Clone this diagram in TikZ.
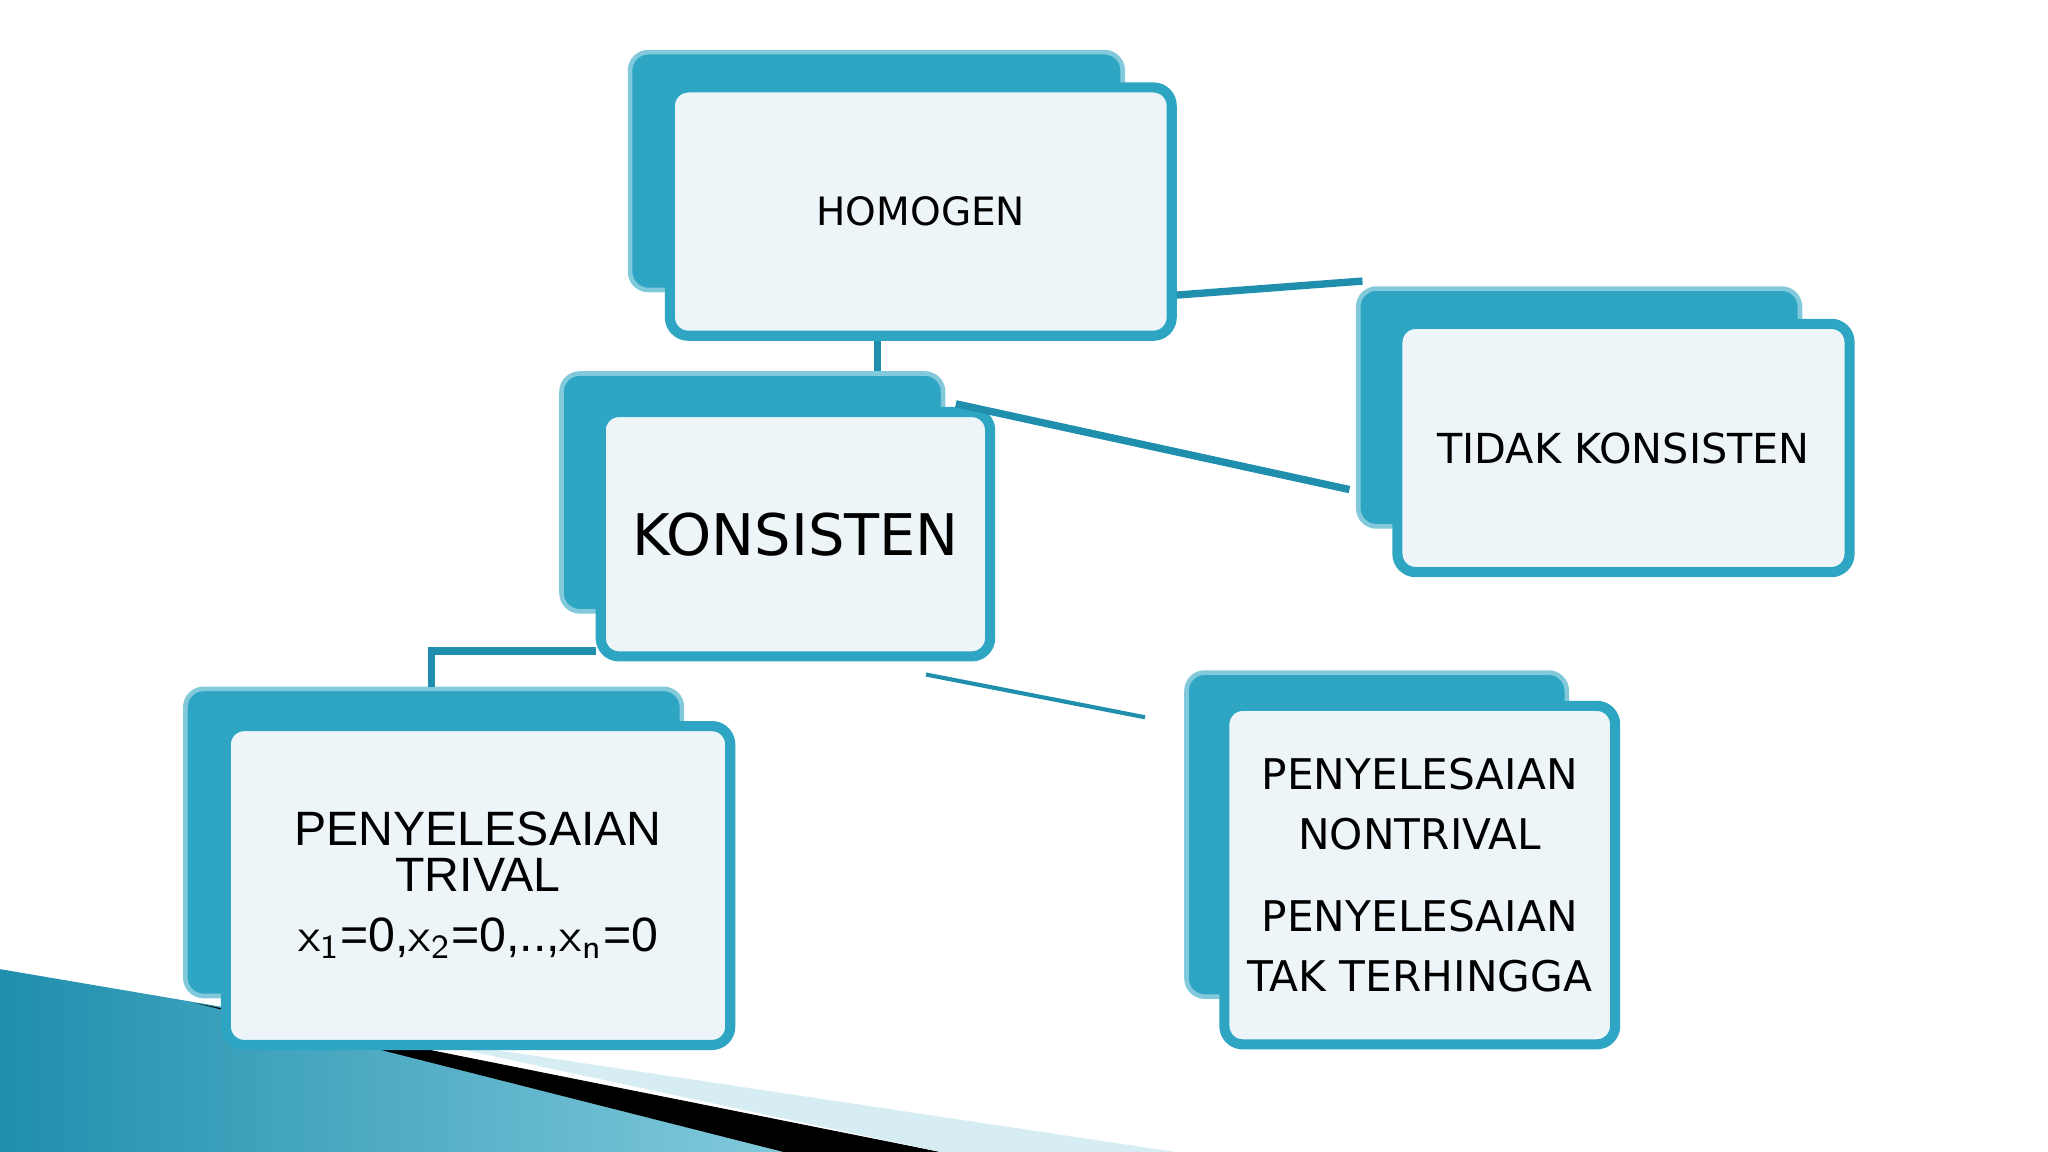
\documentclass[tikz,border=0pt]{standalone}
\usepackage{fontspec}
\setmainfont{DejaVu Sans}
\newfontfamily\arialf{Liberation Sans}
\usetikzlibrary{calc}
\definecolor{teal1}{HTML}{2EA6C3}
\definecolor{teal2}{HTML}{1F8FAD}
\definecolor{pale}{HTML}{EDF5F9}
\tikzset{
 backbox/.style={rounded corners=0.14cm, fill=teal1, draw=teal1!60!white, line width=1pt},
 frontbox/.style={rounded corners=0.14cm, fill=pale, draw=teal1, line width=2.2pt, align=center, inner sep=0pt},
 link/.style={draw=teal2, line width=1.6pt},
}
\begin{document}
\begin{tikzpicture}[x=0.01cm,y=-0.01cm]
\useasboundingbox (0,0) rectangle (1568,882);
\fill[white] (0,0) rectangle (1568,882);
% bottom-left decoration
\shade[left color=teal2, right color=teal1!60!white] (0,742) -- (200,776) -- (600,882) -- (0,882) -- cycle;
\fill[black] (150,768) -- (720,882) -- (600,882) -- cycle;
\fill[teal1!20!white] (300,792) -- (900,882) -- (720,882) -- cycle;
% HOMOGEN
\node[backbox, minimum width=3.77cm, minimum height=1.82cm] (hb) at (671,131) {};
\node[frontbox, minimum width=3.84cm, minimum height=1.9cm, font=\fontsize{8.5}{11}\selectfont] (h) at (705,162) {HOMOGEN};
% KONSISTEN
\node[backbox, minimum width=2.92cm, minimum height=1.82cm] (kb) at (576,377) {};
\node[frontbox, minimum width=2.98cm, minimum height=1.87cm, font=\fontsize{12.5}{16}\selectfont] (k) at (609,409) {KONSISTEN};
% TIDAK
\node[backbox, minimum width=3.38cm, minimum height=1.82cm] (tb) at (1209,312) {};
\node[frontbox, minimum width=3.46cm, minimum height=1.9cm, font=\fontsize{9}{12}\selectfont] (t) at (1243,343) {TIDAK KONSISTEN};
% TRIVAL
\node[backbox, minimum width=3.8cm, minimum height=2.35cm] (rb) at (332,645) {};
\node[frontbox, minimum width=3.86cm, minimum height=2.44cm, font=\arialf\fontsize{10.5}{10}\selectfont] (r) at (366,678) {PENYELESAIAN\\TRIVAL\\[3pt]$\mathsf{x_1}$=0,$\mathsf{x_2}$=0,..,$\mathsf{x_n}$=0};
% NONTRIVAL
\node[backbox, minimum width=2.91cm, minimum height=2.48cm] (nb) at (1054,639) {};
\node[frontbox, minimum width=2.99cm, minimum height=2.59cm, font=\fontsize{9.2}{13}\selectfont] (n) at (1087,670) {PENYELESAIAN\\NONTRIVAL\\[5pt]PENYELESAIAN\\TAK TERHINGGA};
% connectors
\draw[link] ([xshift=-0.33cm]h.south) -- ([xshift=-0.33cm]h.south |- kb.north);
\draw[link] ($(h.south east)+(0,-35)$) -- ($(tb.north west)+(5,-4)$);
\draw[link] ($(kb.north east)+(8,25)$) -- ($(tb.south west)+(-5,-30)$);
\draw[link] ($(k.south west)+(0,-8)$) -| ($(rb.north west)+(190,0)$);
\draw[draw=teal2, line width=0.9pt] ($(k.south)+(100,10)$) -- ($(nb.north west)+(-30,36)$);
\end{tikzpicture}
\end{document}
